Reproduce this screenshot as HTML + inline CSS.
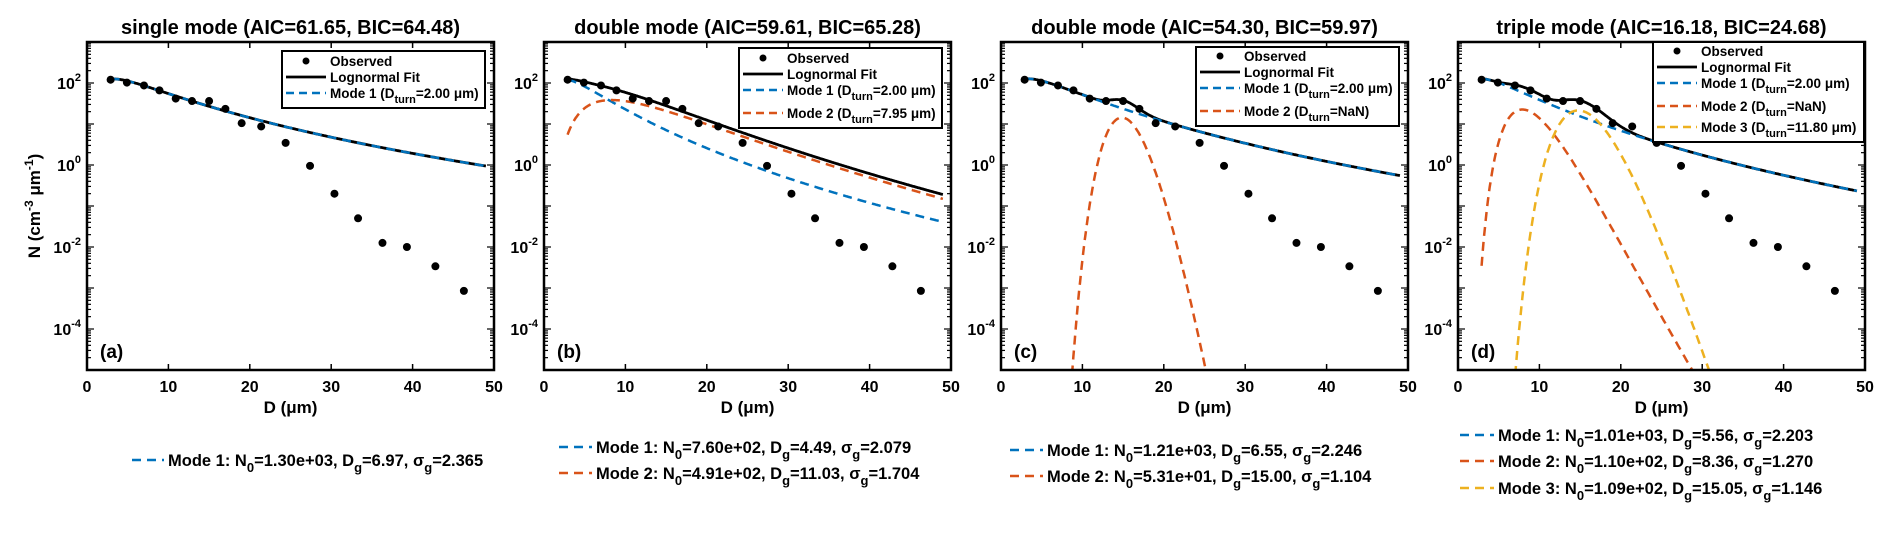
<!DOCTYPE html>
<html><head><meta charset="utf-8">
<style>
html,body{margin:0;padding:0;background:#fff;}
svg{display:block;font-family:"Liberation Sans",Arial,sans-serif;font-weight:bold;}
</style></head>
<body>
<svg id="fig" width="1892" height="547" viewBox="0 0 1892 547" xmlns="http://www.w3.org/2000/svg"></svg>
<script>
// ---- data ----
const obsD = [2.9,4.9,7.0,8.9,10.9,12.9,15.0,17.0,19.0,21.4,24.4,27.4,30.4,33.3,36.3,39.3,42.8,46.3];
const obsLogN = [2.08,2.01,1.94,1.82,1.62,1.56,1.56,1.37,1.02,0.94,0.54,-0.02,-0.70,-1.30,-1.90,-2.00,-2.47,-3.07];
const xTicks = [0,10,20,30,40,50];
const yTickExp = [-4,-2,0,2];
const panelTitles = ["single mode (AIC=61.65, BIC=64.48)","double mode (AIC=59.61, BIC=65.28)","double mode (AIC=54.30, BIC=59.97)","triple mode (AIC=16.18, BIC=24.68)"];
const panelLabels = ["(a)","(b)","(c)","(d)"];
const modeN0 = [[1.30e3],[7.60e2,4.91e2],[1.21e3,5.31e1],[1.01e3,1.10e2,1.09e2]];
const modeDg = [[6.97],[4.49,11.03],[6.55,15.00],[5.56,8.36,15.05]];
const modeSg = [[2.365],[2.079,1.704],[2.246,1.104],[2.203,1.270,1.146]];
const modeN0Txt = [["1.30e+03"],["7.60e+02","4.91e+02"],["1.21e+03","5.31e+01"],["1.01e+03","1.10e+02","1.09e+02"]];
const modeDgTxt = [["6.97"],["4.49","11.03"],["6.55","15.00"],["5.56","8.36","15.05"]];
const modeSgTxt = [["2.365"],["2.079","1.704"],["2.246","1.104"],["2.203","1.270","1.146"]];
const modeTurn = [["2.00 μm"],["2.00 μm","7.95 μm"],["2.00 μm","NaN"],["2.00 μm","NaN","11.80 μm"]];
const colors = ["#0072BD","#D95319","#EDB120"];

// ---- layout ----
const panelLeft = [87,544,1001,1458];
const PW = 407, PT = 42, PB = 370;
const yMinExp = -5, yMaxExp = 3;
const legendBoxes = [
  {x:282,y:51,w:203,rows:[61,77,93]},
  {x:739,y:48,w:203,rows:[58,74,90,113]},
  {x:1196,y:47,w:203,rows:[56,72,88,111]},
  {x:1653,y:42,w:211,rows:[51,67,83,106,127]}
];
const bottomLeg = [
  {lx:132,tx:168,rows:[460]},
  {lx:559,tx:596,rows:[447,473]},
  {lx:1010,tx:1047,rows:[450,476]},
  {lx:1460,tx:1498,rows:[435,461,488]}
];
const NS="http://www.w3.org/2000/svg";
const svg=document.getElementById('fig');
function mk(tag,attrs,parent){const e=document.createElementNS(NS,tag);for(const k in attrs)e.setAttribute(k,attrs[k]);(parent||svg).appendChild(e);return e;}
function lognorm(D,N0,Dg,sg){const ls=Math.log(sg);const r=Math.log(D/Dg);return N0/(Math.sqrt(2*Math.PI)*D*ls)*Math.exp(-r*r/(2*ls*ls));}

for(let p=0;p<4;p++){
  const L=panelLeft[p];
  const xs=d=>L+d/50*PW;
  const ys=v=>PB-(Math.log10(v)-yMinExp)/(yMaxExp-yMinExp)*(PB-PT);
  const g=mk('g',{});
  
  
  const clipId='clip'+p;
  const cp=mk('clipPath',{id:clipId},g);mk('rect',{x:L,y:PT,width:PW,height:PB-PT},cp);
  const t=mk('text',{x:L+PW/2,y:34,'text-anchor':'middle','font-size':20},g);t.textContent=panelTitles[p];
  
  xTicks.forEach(v=>{
    const x=xs(v);
    mk('line',{x1:x,y1:PB,x2:x,y2:PB-6,stroke:'#000','stroke-width':1.5},g);
    mk('line',{x1:x,y1:PT,x2:x,y2:PT+6,stroke:'#000','stroke-width':1.5},g);
    const tl=mk('text',{x:x,y:392,'text-anchor':'middle','font-size':16},g);tl.textContent=v;
    
  });
  for(let e=yMinExp;e<yMaxExp;e++){
    for(let m=1;m<10;m++){
      const v=m*Math.pow(10,e);const y=ys(v);
      const len=m===1?7:4;
      mk('line',{x1:L,y1:y,x2:L+len,y2:y,stroke:'#000','stroke-width':1.2},g);
      mk('line',{x1:L+PW,y1:y,x2:L+PW-len,y2:y,stroke:'#000','stroke-width':1.2},g);
    }
  }
  yTickExp.forEach(e=>{
    const y=ys(Math.pow(10,e));
    const tl=mk('text',{x:L-6,y:y+6,'text-anchor':'end','font-size':16},g);
    
    const a=mk('tspan',{},tl);a.textContent='10';
    const b=mk('tspan',{dy:-8,'font-size':11},tl);b.textContent=String(e);
  });
  const xl=mk('text',{x:L+PW/2,y:413,'text-anchor':'middle','font-size':17},g);xl.textContent='D (μm)';
  
  const cg=mk('g',{'clip-path':'url(#'+clipId+')'},g);
  const nM=modeN0[p].length;
  const Ds=[];for(let d=2.9;d<=49.0001;d+=0.1)Ds.push(d);
  let pts=Ds.map(d=>{let s=0;for(let m=0;m<nM;m++)s+=lognorm(d,modeN0[p][m],modeDg[p][m],modeSg[p][m]);return xs(d).toFixed(1)+','+ys(s).toFixed(1);});
  const tot=mk('polyline',{points:pts.join(' '),fill:'none',stroke:'#000','stroke-width':2.8},cg);
  
  for(let m=0;m<nM;m++){
    const pp=Ds.map(d=>{const v=Math.max(lognorm(d,modeN0[p][m],modeDg[p][m],modeSg[p][m]),1e-7);return xs(d).toFixed(1)+','+ys(v).toFixed(1);});
    const ml=mk('polyline',{points:pp.join(' '),fill:'none',stroke:colors[m],'stroke-width':2.5,'stroke-dasharray':'9,6'},cg);
    
  }
  obsD.forEach((d,i)=>{
    const c=mk('circle',{cx:xs(d),cy:ys(Math.pow(10,obsLogN[i])),r:4,fill:'#000'},cg);
    
  });
  mk('rect',{x:L,y:PT,width:PW,height:PB-PT,fill:'none',stroke:'#000','stroke-width':2.5},g);
  const pl=mk('text',{x:L+13,y:358,'font-size':19},g);pl.textContent=panelLabels[p];
  
  const lb=legendBoxes[p];
  const lg=mk('g',{},g);
  
  const last=lb.rows[lb.rows.length-1];
  mk('rect',{x:lb.x,y:lb.y,width:lb.w,height:last+15-lb.y,fill:'#fff',stroke:'#000','stroke-width':2},lg);
  const lx0=lb.x+4,lx1=lb.x+44,tx=lb.x+48;
  mk('circle',{cx:(lx0+lx1)/2,cy:lb.rows[0],r:3.5,fill:'#000'},lg);
  let tt=mk('text',{x:tx,y:lb.rows[0]+5,'font-size':13.5},lg);tt.textContent='Observed';
  mk('line',{x1:lx0,y1:lb.rows[1],x2:lx1,y2:lb.rows[1],stroke:'#000','stroke-width':2.8},lg);
  tt=mk('text',{x:tx,y:lb.rows[1]+5,'font-size':13.5},lg);tt.textContent='Lognormal Fit';
  for(let m=0;m<nM;m++){
    const y=lb.rows[2+m];
    mk('line',{x1:lx0,y1:y,x2:lx1,y2:y,stroke:colors[m],'stroke-width':2.5,'stroke-dasharray':'8,5'},lg);
    const te=mk('text',{x:tx,y:y+5,'font-size':13.5},lg);
    
    let s=mk('tspan',{},te);s.textContent='Mode '+(m+1)+' (D';
    s=mk('tspan',{dy:5,'font-size':11},te);s.textContent='turn';
    s=mk('tspan',{dy:-5},te);s.textContent='='+modeTurn[p][m]+')';
  }
  const bl=bottomLeg[p];
  for(let m=0;m<nM;m++){
    const y=bl.rows[m];
    mk('line',{x1:bl.lx,y1:y,x2:bl.tx-4,y2:y,stroke:colors[m],'stroke-width':2.5,'stroke-dasharray':'9,6'},g);
    const te=mk('text',{x:bl.tx,y:y+6,'font-size':16.5},g);
    
    const parts=[['Mode '+(m+1)+': N',0],['0',1],['='+modeN0Txt[p][m]+', D',-1],['g',1],['='+modeDgTxt[p][m]+', σ',-1],['g',1],['='+modeSgTxt[p][m],-1]];
    parts.forEach(([txt,s])=>{const ts=mk('tspan',s===1?{dy:6,'font-size':13}:(s===-1?{dy:-6}:{}),te);ts.textContent=txt;});
  }
}
const yt=mk('text',{x:0,y:0,'text-anchor':'middle','font-size':17,transform:'translate(40,206) rotate(-90)'});

[['N (cm',0],['-3',1],[' μm',-1],['-1',1],[')',-1]].forEach(([txt,s])=>{const ts=mk('tspan',s===1?{dy:-7,'font-size':12}:(s===-1?{dy:7}:{}),yt);ts.textContent=txt;});
</script>
</body></html>
